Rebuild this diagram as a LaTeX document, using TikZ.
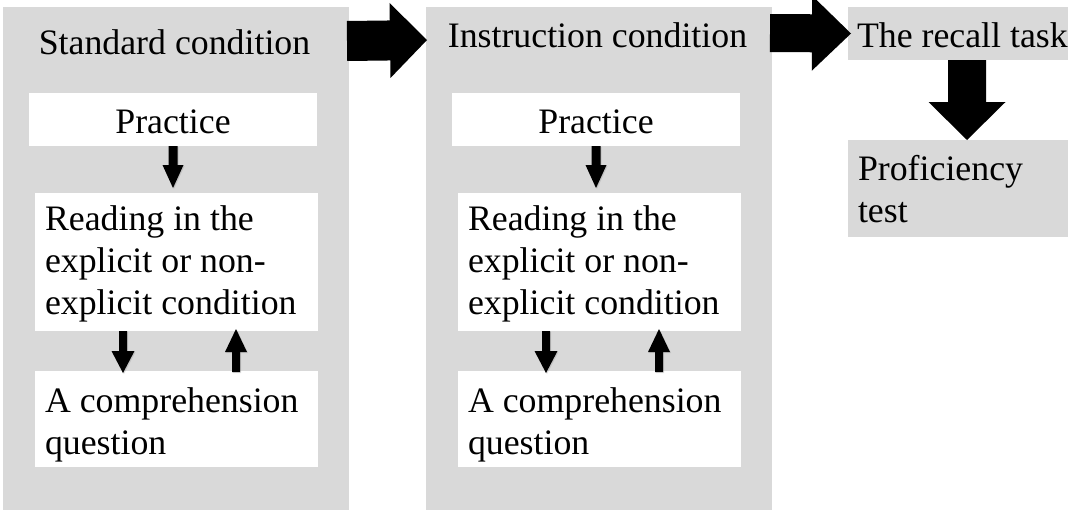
\documentclass[tikz,border=0pt]{standalone}
\usepackage{fontspec}
\setmainfont{Liberation Serif}
\usetikzlibrary{calc,shadows}
\definecolor{panelgray}{HTML}{D9D9D9}

\tikzset{
  panel/.style={fill=panelgray, draw=none, anchor=north west, inner sep=0pt, outer sep=0pt},
  whitebox/.style={fill=white, draw=none, anchor=north west, inner sep=0pt, outer sep=0pt},
  txt/.style={inner sep=0pt, outer sep=0pt, font=\fontsize{35.8}{42}\selectfont},
  bigarrow/.style={fill=black},
  smallarrow/.style={fill=black, drop shadow={opacity=0.25, shadow xshift=1pt, shadow yshift=-1pt}},
}

% Block arrow from #3 to #4: shaft half width #5, head half width #6, head length #7
\newcommand\blockarrow[7][bigarrow]{%
  \coordinate (#2-s) at #3;
  \coordinate (#2-t) at #4;
  \coordinate (#2-h) at ($(#2-t)!#7!(#2-s)$);
  \path[#1] ($(#2-s)!#5!90:(#2-t)$) -- ($(#2-h)!#5!90:(#2-t)$)
    -- ($(#2-h)!#6!90:(#2-t)$) -- (#2-t) -- ($(#2-h)!#6!-90:(#2-t)$)
    -- ($(#2-h)!#5!-90:(#2-t)$) -- ($(#2-s)!#5!-90:(#2-t)$) -- cycle;
}

% One condition panel: #1 name prefix, #2 horizontal offset, #3 title, #4 title baseline
\newcommand\condition[4]{%
  \begin{scope}[xshift=#2pt]
    \node[panel, minimum width=346pt, minimum height=503pt] (#1-panel) at (3,7) {};
    \node[txt, anchor=base] (#1-title) at (174.5,#4) {#3};
    \node[whitebox, minimum width=288pt, minimum height=53pt] (#1-prac) at (29,93) {};
    \node[txt, anchor=base] (#1-practext) at (173,133) {Practice};
    \node[whitebox, minimum width=283pt, minimum height=138pt] (#1-read) at (35,193) {};
    \node[txt, anchor=base west] (#1-readtext) at (45,230)
      {\parbox[t]{270pt}{\raggedright Reading in the\\explicit or non-\\explicit condition}};
    \node[whitebox, minimum width=283pt, minimum height=96pt] (#1-comp) at (35,371) {};
    \node[txt, anchor=base west] (#1-comptext) at (45,412)
      {\parbox[t]{270pt}{\raggedright A comprehension\\question}};
  \end{scope}
  \blockarrow[smallarrow]{#1-a1}{(#1-prac.south)}{($(#1-read.north -| #1-prac.south)+(0,-5)$)}{4.5pt}{10.5pt}{23pt}
  \blockarrow[smallarrow]{#1-a2}{($(#1-read.south west)+(88,0)$)}{($(#1-comp.north west)+(88,2)$)}{4pt}{11.5pt}{22pt}
  \blockarrow[smallarrow]{#1-a3}{($(#1-comp.north west)+(201,1)$)}{($(#1-read.south west)+(201,-2)$)}{4pt}{11pt}{23pt}
}

\begin{document}
\begin{tikzpicture}[x=1pt, y=-1pt]
  \useasboundingbox (0,0) rectangle (1087,512);

  \condition{std}{0}{Standard condition}{54}
  \condition{ins}{423}{Instruction condition}{47}

  % final stages
  \node[panel, minimum width=220pt, minimum height=53pt] (recall) at (848,7) {};
  \node[txt, anchor=base west] (recalltext) at (857,47) {The recall task};
  \node[panel, minimum width=220pt, minimum height=97pt] (prof) at (848,140) {};
  \node[txt, anchor=base west] (proftext) at (858,180)
    {\parbox[t]{205pt}{\raggedright Proficiency\\test}};

  % block arrows between the stages
  \blockarrow{big1}{($(std-panel.north east)+(-2,34)$)}{($(ins-panel.north west)+(1,33)$)}{20pt}{37.5pt}{37pt}
  \blockarrow{big2}{($(ins-panel.north east)+(-2,26)$)}{($(recall.west)+(3,0)$)}{19pt}{37.5pt}{39pt}
  \blockarrow{big3}{($(recall.south)+(9,0)$)}{($(prof.north)+(9,0)$)}{19pt}{38.5pt}{38pt}
\end{tikzpicture}
\end{document}
